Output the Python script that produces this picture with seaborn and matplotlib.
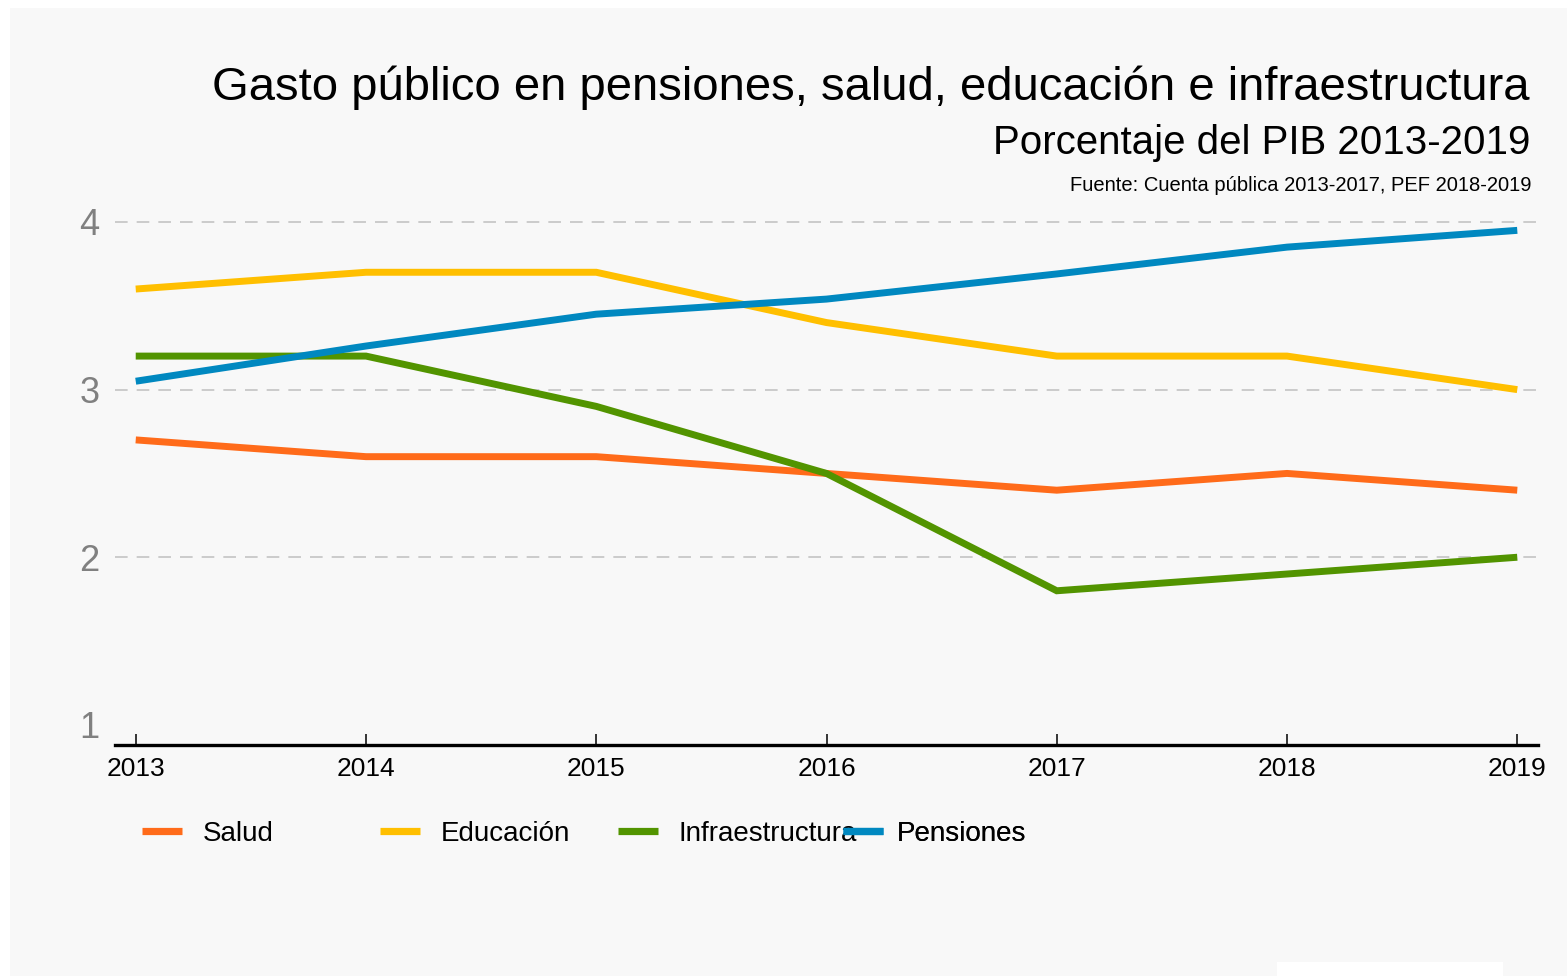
import pandas as pd
import seaborn as sns
import matplotlib.pyplot as plt
import matplotlib as mpl
from matplotlib.patches import Rectangle

# datos (% del PIB)
years = [2013, 2014, 2015, 2016, 2017, 2018, 2019]
salud = [2.7, 2.6, 2.6, 2.5, 2.4, 2.5, 2.4]
educacion = [3.6, 3.7, 3.7, 3.4, 3.2, 3.2, 3.0]
infraestructura = [3.2, 3.2, 2.9, 2.5, 1.8, 1.9, 2.0]
pensiones = [3.05, 3.26, 3.45, 3.54, 3.69, 3.85, 3.95]

series_names = ['Salud', 'Educación', 'Infraestructura', 'Pensiones']
colors = ['#ff6b1a', '#ffbf00', '#529400', '#0088c0']

sns.set_theme(style="white")
mpl.rcParams.update({
    'font.family': ['Liberation Sans', 'DejaVu Sans'],
    'axes.facecolor': '#f8f8f8',
    'text.color': 'black',
})

df = pd.DataFrame({
    'year': years * 4,
    'value': salud + educacion + infraestructura + pensiones,
    'serie': sum([[n] * len(years) for n in series_names], []),
})

fig = plt.figure(figsize=(15.67, 9.76), dpi=100)
fig.patch.set_facecolor('white')
# panel gris de fondo
fig.patches.append(Rectangle((10 / 1567, 0), 1 - 10 / 1567, 1 - 8 / 976,
                             transform=fig.transFigure, facecolor='#f8f8f8',
                             edgecolor='none', zorder=-10))
fig.patches.append(Rectangle((1277 / 1567, 0), 226 / 1567, 14 / 976,
                             transform=fig.transFigure, facecolor='white',
                             edgecolor='none', zorder=-9))

ax = fig.add_axes([115 / 1567, (976 - 745) / 976, 1423 / 1567, (745 - 213.6) / 976])
sns.lineplot(data=df, x='year', y='value', hue='serie', hue_order=series_names,
             palette=colors, linewidth=5, ax=ax, legend=True)
for ln in ax.lines:
    ln.set_solid_capstyle('butt')
    ln.set_solid_joinstyle('miter')

ax.set_xlim(2012.91, 2019.09)
ax.set_ylim(0.88, 4.05)
ax.set_xticks(years)
ax.set_yticks([1, 2, 3, 4])
ax.set_xlabel('')
ax.set_ylabel('')

for s in ['top', 'right', 'left']:
    ax.spines[s].set_visible(False)
ax.spines['bottom'].set_color('black')
ax.spines['bottom'].set_linewidth(2.4)

ax.tick_params(axis='x', direction='in', length=8, width=1.1, colors='black',
               labelsize=19, pad=9, bottom=True)
ax.tick_params(axis='y', length=0, labelsize=26, labelcolor='#808080', pad=11)

for yv in [2, 3, 4]:
    ax.axhline(yv, color='#c8c8c8', linewidth=1.3, linestyle=(0, (7, 5)), zorder=0)

# leyenda: una entrada por columna fija
handles, labels = ax.get_legend_handles_labels()
ax.get_legend().remove()
leg_x = [142, 380, 618, 843]
leg_pad = [0.72, 0.72, 0.72, 0.5]
for h, lab, lx, tp in zip(handles, labels, leg_x, leg_pad):
    h.set_linewidth(5.2)
    h.set_solid_capstyle('butt')
    leg = ax.legend([h], [lab], loc='center left',
                    bbox_to_anchor=(lx / 1567, (976 - 834) / 976),
                    bbox_transform=fig.transFigure, frameon=False,
                    fontsize=20, handlelength=1.45, handletextpad=tp,
                    borderpad=0, borderaxespad=0, labelcolor='black')
    ax.add_artist(leg)

fig.text(1530 / 1567, 1 - 100 / 976,
         'Gasto público en pensiones, salud, educación e infraestructura',
         ha='right', va='baseline', fontsize=34, color='black')
fig.text(1530 / 1567, 1 - 154 / 976, 'Porcentaje del PIB 2013-2019',
         ha='right', va='baseline', fontsize=29, color='black')
fig.text(1532 / 1567, 1 - 191 / 976, 'Fuente: Cuenta pública 2013-2017, PEF 2018-2019',
         ha='right', va='baseline', fontsize=14.5, color='black')

plt.savefig('out.png', dpi=100, facecolor=fig.get_facecolor())
plt.close()
